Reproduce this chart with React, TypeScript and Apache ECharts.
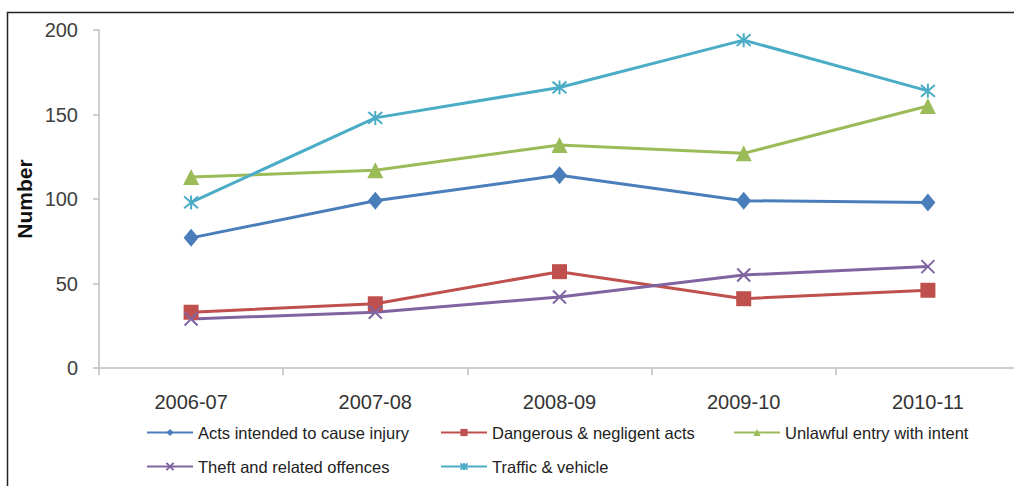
import React, { useEffect, useRef } from "react";
import * as echarts from "echarts";

const categories = ["2006-07", "2007-08", "2008-09", "2009-10", "2010-11"];
const actsInjury = [77, 99, 114, 99, 98];
const dangerousActs = [33, 38, 57, 41, 46];
const unlawfulEntry = [113, 117, 132, 127, 155];
const theftOffences = [29, 33, 42, 55, 60];
const trafficVehicle = [98, 148, 166, 194, 164];
const yTicks = { min: 0, max: 200, interval: 50 };

const FONT = "'Liberation Sans', Arial, sans-serif";

const X_PATH = "path://M0,0 L10,10 M10,0 L0,10";
const STAR_PATH = "path://M0,0 L10,10 M10,0 L0,10 M5,-1 L5,11";

export default function App() {
  const ref = useRef<HTMLDivElement>(null);
  useEffect(() => {
    if (!ref.current) return;
    const chart = echarts.init(ref.current, null, { renderer: "svg" });
    const mk = (
      name: string,
      data: number[],
      color: string,
      symbol: string,
      size: number | number[],
      hollow: boolean
    ) => ({
      name,
      type: "line",
      data,
      symbol,
      symbolSize: size,
      lineStyle: { color, width: 3 },
      itemStyle: hollow
        ? { color: "rgba(0,0,0,0)", borderColor: color, borderWidth: 2 }
        : { color, borderWidth: 0 },
      emphasis: { disabled: true },
    });
    const legendBase = {
      itemWidth: 46,
      itemHeight: 9,
      itemGap: 4,
      textStyle: { fontFamily: FONT, fontSize: 16.5, color: "#222" },
      padding: 0,
    };
    chart.setOption({
      animation: false,
      grid: { left: 99, top: 30, width: 921, height: 338, outerBoundsMode: "none", containLabel: false },
      xAxis: {
        type: "category",
        data: categories,
        boundaryGap: true,
        axisLine: { lineStyle: { color: "#BFBFBF", width: 1.5 } },
        axisTick: { show: true, length: 7, alignWithLabel: false, lineStyle: { color: "#BFBFBF", width: 1.5 } },
        axisLabel: { margin: 24, fontFamily: FONT, fontSize: 20, color: "#333" },
        splitLine: { show: false },
      },
      yAxis: {
        type: "value",
        min: yTicks.min,
        max: yTicks.max,
        interval: yTicks.interval,
        axisLine: { show: true, lineStyle: { color: "#BFBFBF", width: 1.5 } },
        axisTick: { show: true, length: 6, lineStyle: { color: "#BFBFBF", width: 1.5 } },
        axisLabel: { margin: 21, fontFamily: FONT, fontSize: 20, color: "#404040" },
        splitLine: { show: false },
      },
      legend: [
        { ...legendBase, data: ["Acts intended to cause injury"], left: 146, top: 424 },
        { ...legendBase, data: ["Dangerous & negligent acts"], left: 440, top: 424 },
        { ...legendBase, data: ["Unlawful entry with intent"], left: 733, top: 424 },
        { ...legendBase, data: ["Theft and related offences"], left: 146, top: 458 },
        { ...legendBase, data: ["Traffic & vehicle"], left: 440, top: 458 },
      ],
      graphic: [
        {
          type: "rect",
          shape: { x: 7.5, y: 12.5, width: 1100, height: 600 },
          style: { fill: "none", stroke: "#222", lineWidth: 1.5 },
          silent: true,
        },
        {
          type: "text",
          x: 24,
          y: 199,
          rotation: Math.PI / 2,
          style: {
            text: "Number",
            fontFamily: FONT,
            fontWeight: "bold",
            fontSize: 21,
            fill: "#111",
            align: "center",
            verticalAlign: "middle",
          },
        },
      ],
      series: [
        mk("Acts intended to cause injury", actsInjury, "#4A7EBB", "diamond", [15, 18], false),
        mk("Dangerous & negligent acts", dangerousActs, "#C0504D", "rect", 15, false),
        mk("Unlawful entry with intent", unlawfulEntry, "#9BBB59", "triangle", 16, false),
        mk("Theft and related offences", theftOffences, "#8064A2", X_PATH, 13, true),
        mk("Traffic & vehicle", trafficVehicle, "#4BACC6", STAR_PATH, 14, true),
      ],
    });
    return () => chart.dispose();
  }, []);
  return (
    <div
      ref={ref}
      style={{ position: "absolute", left: 0, top: 0, width: 1014, height: 486, background: "#fff" }}
    />
  );
}
